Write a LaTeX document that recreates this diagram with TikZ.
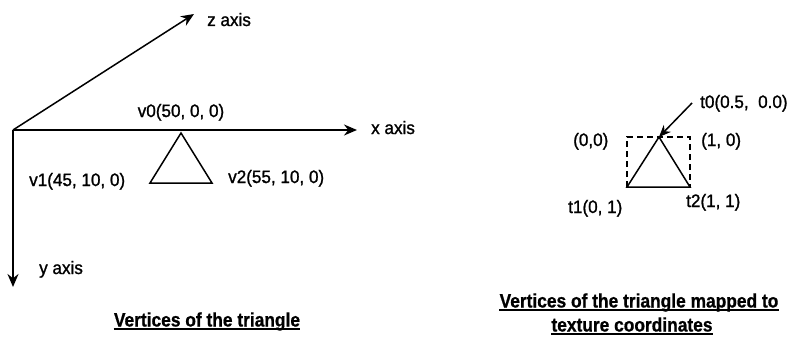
\documentclass[tikz,border=0pt]{standalone}
\usepackage{fontspec}
\setmainfont{Liberation Sans}
\newfontfamily\condfont[FakeStretch=0.95,FakeBold=1.2]{Liberation Sans}
\newfontfamily\condbold[FakeStretch=0.89,FakeBold=0.8]{Liberation Sans Bold}
\usetikzlibrary{arrows.meta}
\begin{document}
\begin{tikzpicture}[x=1pt,y=-1pt,
  lbl/.style={inner sep=0pt,anchor=base west,font=\condfont\fontsize{18}{21}\selectfont},
  ttl/.style={inner sep=0pt,anchor=base,font=\condbold\fontsize{19.5}{23}\selectfont},
  uline/.style={line width=1.7pt},
  axis/.style={line width=1.5pt,-{Stealth[length=13pt,width=11pt]}},
  tri/.style={line width=1.5pt,line join=miter},
  dbox/.style={line width=1.2pt,dash pattern=on 6pt off 4pt}]
\useasboundingbox (0,0) rectangle (787,337);
% left diagram
\coordinate (O) at (13,130);
\coordinate (X) at (357,130);
\coordinate (Z) at (194,14);
\coordinate (Y) at (13,287);
\draw[axis] (O) -- (X);
\draw[axis] (O) -- (Z);
\draw[axis] (O) -- (Y);
\node[lbl] (xl) at (371,134) {x axis};
\node[lbl] (zl) at (207,26) {z axis};
\node[lbl] (yl) at (39,274) {y axis};
\coordinate (a0) at (181,133);
\coordinate (a1) at (150,183);
\coordinate (a2) at (212,183);
\draw[tri] (a0) -- (a1) -- (a2) -- cycle;
\node[lbl,anchor=base] (v0) at (181,117) {v0(50, 0, 0)};
\node[lbl] (v1) at (29,186) {v1(45, 10, 0)};
\node[lbl] (v2) at (228,183) {v2(55, 10, 0)};
\node[ttl] (t1t) at (207,326.5) {Vertices of the triangle};
\draw[uline] ([yshift=-2.5pt]t1t.base west) -- ([yshift=-2.5pt]t1t.base east);
% right diagram
\coordinate (r0) at (659,137);
\coordinate (r1) at (627,187);
\coordinate (r2) at (690,187);
\draw[dbox] (627,187) -- (627,137) -- (690,137) -- (690,187);
\draw[tri] (r0) -- (r1) -- (r2) -- cycle;
\coordinate (ta) at (692,103);
\draw[line width=1.5pt,-{Stealth[length=12pt,width=10pt]}] (ta) -- (r0);
\node[lbl] (t0) at (700,108) {t0(0.5,\ \ 0.0)};
\node[lbl] (c00) at (573,146) {(0,0)};
\node[lbl] (c10) at (701,146) {(1, 0)};
\node[lbl] (t1) at (568,213) {t1(0, 1)};
\node[lbl] (t2) at (686,207) {t2(1, 1)};
\node[ttl] (t2t) at (639,307.5) {Vertices of the triangle mapped to};
\draw[uline] ([yshift=-2.5pt]t2t.base west) -- ([yshift=-2.5pt]t2t.base east);
\node[ttl] (t3t) at (632,331.5) {texture coordinates};
\draw[uline] ([yshift=-2.5pt]t3t.base west) -- ([yshift=-2.5pt]t3t.base east);
\end{tikzpicture}
\end{document}
